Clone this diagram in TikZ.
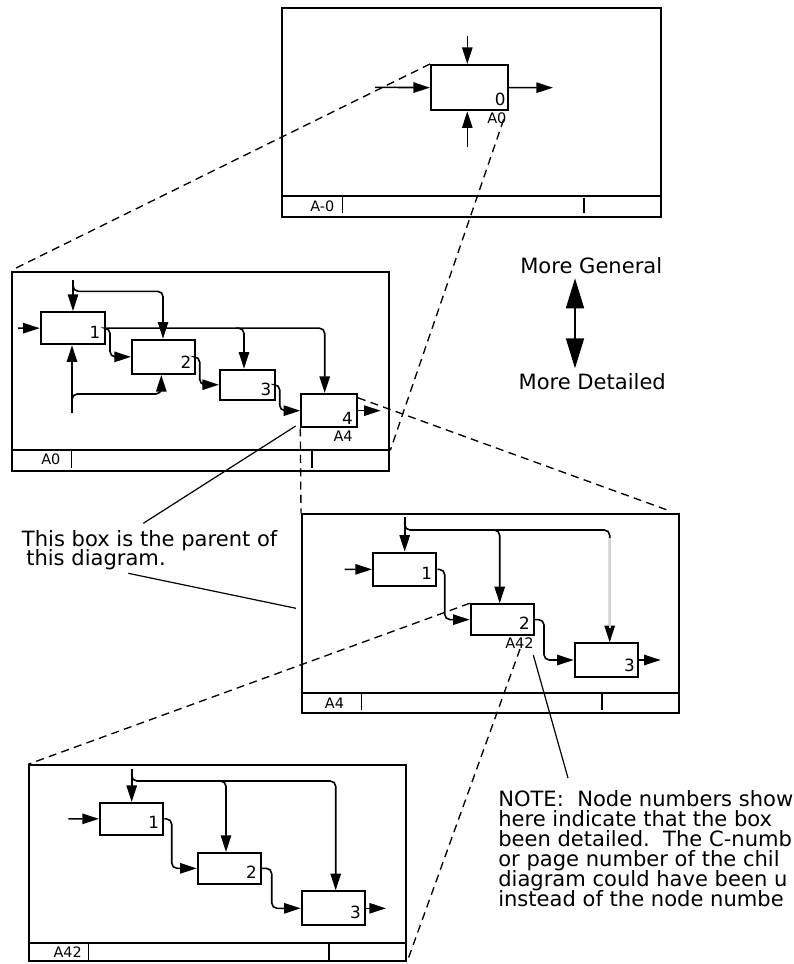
\documentclass[tikz,border=0pt]{standalone}
\usepackage{fontspec}
\setmainfont{DejaVu Sans}
\usetikzlibrary{arrows.meta,fit,calc}
\begin{document}
\begin{tikzpicture}[x=0.75pt,y=-0.75pt,
  frame/.style={draw, line width=1.5pt, inner sep=0pt},
  fline/.style={line width=1.5pt},
  tick/.style={line width=1.2pt},
  box/.style={draw, line width=1.5pt, inner sep=0pt},
  arr/.style={line width=1.2pt, -{Triangle[length=12.5pt,width=7.8pt]}, rounded corners=4pt},
  dline/.style={line width=1pt, dash pattern=on 6pt off 4pt},
  lead/.style={line width=0.9pt},
  num/.style={font=\fontsize{12.6}{12}\selectfont, inner sep=0pt, anchor=south east},
  sub/.style={font=\fontsize{10.9}{11}\selectfont, inner sep=0pt, anchor=north east},
  flab/.style={font=\fontsize{10.8}{11}\selectfont, inner sep=0pt, anchor=base west},
  big/.style={font=\fontsize{15.8}{15}\selectfont, inner sep=0pt, anchor=base west},
]
\useasboundingbox (0,0) rectangle (793,964);
\fill[white] (0,0) rectangle (793,964);

% ---------------- frames ----------------
\node[frame, fit={(281.7,7.7) (660.7,216.7)}] (F0) {};
\node[frame, fit={(12,272) (389.3,470.7)}] (F1) {};
\node[frame, fit={(302,514) (679,713.3)}] (F2) {};
\node[frame, fit={(29,765.3) (406,961)}] (F3) {};

\draw[fline] (F0.west |- 0,195.7) -- (F0.east |- 0,195.7);
\draw[tick] (342.3,195.7) -- (342.3,213);
\draw[tick] (584,197.7) -- (584,213);
\node[flab] (L0) at (310,211.7) {A-0};

\draw[fline] (F1.west |- 0,450.3) -- (F1.east |- 0,450.3);
\draw[tick] (71.3,450.3) -- (71.3,468);
\draw[tick] (312,450.3) -- (312,468);
\node[flab] (L1) at (41,464) {A0};

\draw[fline] (F2.west |- 0,692.7) -- (F2.east |- 0,692.7);
\draw[tick] (361.3,692.7) -- (361.3,710);
\draw[tick] (602,692.7) -- (602,710);
\node[flab] (L2) at (324.7,708.3) {A4};

\draw[fline] (F3.west |- 0,942.7) -- (F3.east |- 0,942.7);
\draw[tick] (88.3,942.7) -- (88.3,960);
\draw[tick] (329,942.7) -- (329,960);
\node[flab] (L3) at (53.3,957) {A42};

% ---------------- boxes ----------------
\node[box, fit={(431,65) (507.7,110.3)}] (B0) {};
\node[num] (n0) at ($(B0.south east)+(-3,-5)$) {0};
\node[sub] (s0) at ($(B0.south east)+(-2,1)$) {A0};

\node[box, fit={(40.7,312) (104.7,344.3)}] (A1) {};
\node[box, fit={(132,339.7) (194.7,374)}] (A2) {};
\node[box, fit={(220,369.7) (274.7,399.7)}] (A3) {};
\node[box, fit={(301.3,394) (357,427.3)}] (A4) {};
\node[num] (na1) at ($(A1.south east)+(-5,-7)$) {1};
\node[num] (na2) at ($(A2.south east)+(-4,-6)$) {2};
\node[num] (na3) at ($(A3.south east)+(-4,-5)$) {3};
\node[num] (na4) at ($(A4.south east)+(-5,-4)$) {4};
\node[sub] (sa4) at ($(A4.south east)+(-5,2)$) {A4};

\node[box, fit={(373,552.7) (436.3,586)}] (C1) {};
\node[box, fit={(470.7,604.3) (534,635)}] (C2) {};
\node[box, fit={(574.7,643.3) (638,676.7)}] (C3) {};
\node[num] (nc1) at ($(C1.south east)+(-5,-7)$) {1};
\node[num] (nc2) at ($(C2.south east)+(-5,-6)$) {2};
\node[num] (nc3) at ($(C3.south east)+(-4,-6)$) {3};
\node[sub] (sc2) at ($(C2.south east)+(-1,1.5)$) {A42};

\node[box, fit={(100,803) (163.3,834.7)}] (D1) {};
\node[box, fit={(197.7,853) (261,883.7)}] (D2) {};
\node[box, fit={(301.7,891.3) (365,925.3)}] (D3) {};
\node[num] (nd1) at ($(D1.south east)+(-5,-7)$) {1};
\node[num] (nd2) at ($(D2.south east)+(-5,-6)$) {2};
\node[num] (nd3) at ($(D3.south east)+(-5,-7)$) {3};

% ---------------- texts ----------------
\node[big] (MG) at (520,273.3) {More General};
\node[big] (MD) at (518.3,389.3) {More Detailed};
\node[big] (T1) at (21.7,546) {This box is the parent of};
\node[big] (T2) at (26,565.7) {this diagram.};
\node[big] (N1) at (498,806.7) {NOTE:\ \ Node numbers show};
\node[big] (N2) at (498,826.7) {here indicate that the box};
\node[big] (N3) at (498,846.7) {been detailed.\ \ The C-numb};
\node[big] (N4) at (498,866.7) {or page number of the chil};
\node[big] (N5) at (498,886.7) {diagram could have been u};
\node[big] (N6) at (498,906.7) {instead of the node numbe};

% ---------------- top diagram connectors ----------------
\coordinate (i0) at (375,87.3);
\coordinate (o0) at (553,87.7);
\coordinate (c0) at (467.3,35.7);
\coordinate (m0) at (467.3,146.7);
\draw[arr] (i0) -- (B0.west);
\draw[arr] (B0.east) -- (o0);
\draw[arr] (c0) -- (c0 |- B0.north);
\draw[arr] (m0) -- (m0 |- B0.south);

% ---------------- A0 connectors ----------------
\coordinate (ia) at (18,328.2);
\coordinate (ca) at (73,279.7);
\coordinate (ma) at (72,413);
\draw[arr] (ia) -- (A1.west);
\draw[arr] (ca) -- (ca |- A1.north);
\draw[arr] (73,285) |- (163,291.3) -- (163,0 |- A2.north);
\draw[arr] (ma) -- (ma |- A1.south);
\draw[arr] (72,404) |- (161.3,394) -- (161.3,0 |- A2.south);
\draw[arr] (A1.east) -| (324.7,0 |- A4.north);
\draw[arr] (236,0 |- A1.east) -| (244,0 |- A3.north);
\draw[arr] (A1.east) -| (110,0 |- A2.west) -- (A2.west);
\draw[arr] (A2.east) -| (199.7,0 |- A3.west) -- (A3.west);
\draw[arr] (A3.east) -| (279.7,0 |- A4.west) -- (A4.west);
\draw[arr] (A4.east) -- ++(22.7,0);

% ---------------- A4 connectors ----------------
\coordinate (cc) at (404.7,517.3);
\draw[arr] (cc) -- (cc |- C1.north);
\draw[arr] (404.7,522) |- (499.7,530) -- (499.7,0 |- C2.north);
\draw[arr] (492,530) -| (609.7,0 |- C3.north);
\draw[line width=1.2pt, gray!35] (609.7,538) -- (609.7,628);
\draw[arr] (344.7,569.3) -- (C1.west);
\draw[arr] (C1.east) -| (444.7,0 |- C2.west) -- (C2.west);
\draw[arr] (C2.east) -| (544,0 |- C3.west) -- (C3.west);
\draw[arr] (C3.east) -- ++(21.7,0);

% ---------------- A42 connectors ----------------
\coordinate (cd) at (131.7,768.7);
\draw[arr] (cd) -- (cd |- D1.north);
\draw[arr] (131.7,773) |- (226,781) -- (226,0 |- D2.north);
\draw[arr] (218,781) -| (335.7,0 |- D3.north);
\draw[arr] (68.3,818.8) -- (D1.west);
\draw[arr] (D1.east) -| (171.7,0 |- D2.west) -- (D2.west);
\draw[arr] (D2.east) -| (271.7,0 |- D3.west) -- (D3.west);
\draw[arr] (D3.east) -- ++(20,0);

% ---------------- dashed detail lines ----------------
\draw[dline] (B0.north west) -- ($(F1.north west)+(3,-2)$);
\draw[dline] ($(B0.south east)+(-5,8)$) -- (F1.east |- 0,450.3);
\draw[dline] ($(A4.north east)+(0,4.8)$) -- ($(F2.north east)+(-10,-2)$);
\draw[dline] (A4.south west) -- (F2.north west);
\draw[dline] (C2.north west) -- (F3.north west);
\draw[dline] ($(C2.south east)+(-15,13)$) -- (F3.south east);

% ---------------- leader lines ----------------
\draw[lead] ($(A4.south west)+(-4.6,-2.3)$) -- (143.3,523.3);
\draw[lead] (128.3,573.3) -- ($(F2.west |- 0,608.3)+(-5,0)$);
\draw[lead] ($(C2.south east)+(-1.7,19)$) -- (568,778);

% ---------------- level arrow ----------------
\coordinate (g1) at (575,278.3);
\coordinate (g2) at (575,368.3);
\draw[line width=1.3pt, {Triangle[length=22.5pt,width=13.5pt]}-{Triangle[length=22.5pt,width=13.5pt]}] (g1) -- (g2);
\end{tikzpicture}
\end{document}
